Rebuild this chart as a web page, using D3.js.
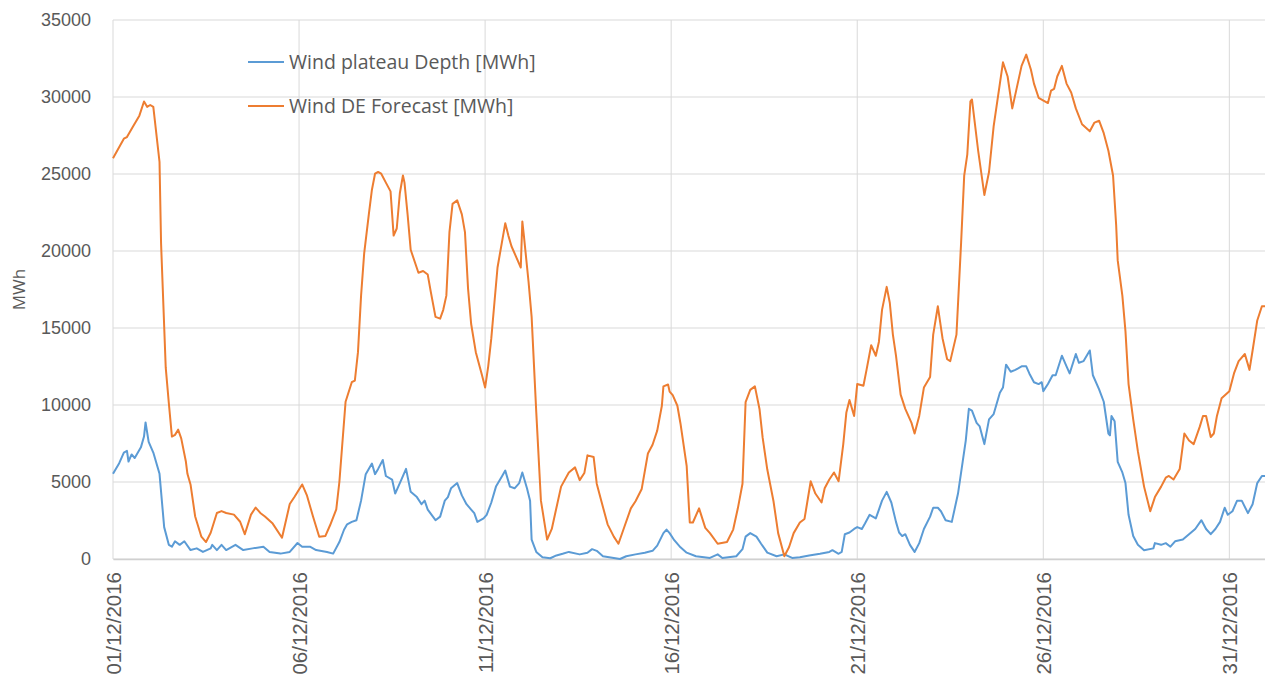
<!DOCTYPE html>
<html>
<head>
<meta charset="utf-8">
<script src="https://cdn.jsdelivr.net/npm/d3@7"></script>
<style>
  body { margin: 0; background: #fff; }
  svg { display: block; font-family: "Open Sans", "Noto Sans", sans-serif; }
</style>
</head>
<body>
<svg id="chart" width="1265" height="681"></svg>
<script>
// hours since 01/12/2016 00:00, values in MWh
const forecastHours = [0,7,9,13,17,20,22,24,26,30,31,34,36,38,40,42,44,47,48,50,53,57,60,63,67,70,73,78,82,85,89,92,95,98,103,109,114,117,122,125,129,133,137,140,144,146,150,154,156,158,160,162,165,167,169,171,173,176,179,181,183,185,187,188,190,192,197,200,203,205,208,211,213,215,217,219,222,225,227,229,231,234,238,240,242,244,246,248,252,253,255,257,260,263,264,265,268,270,273,276,280,283,286,289,294,298,301,304,306,310,312,315,319,323,326,330,334,337,341,345,348,351,354,355,358,359,361,364,366,370,372,374,378,382,385,390,396,400,403,406,408,411,414,417,419,422,426,429,433,436,439,443,446,450,453,457,459,462,465,468,471,473,475,478,480,484,486,489,492,494,496,499,501,503,505,508,511,515,517,520,523,527,529,532,535,538,540,544,547,549,551,553,554,558,562,565,568,572,574,577,580,583,586,589,592,594,597,603,605,607,609,612,615,618,621,625,630,633,636,639,642,645,647,648,651,653,655,658,661,665,669,672,676,679,681,684,688,691,694,697,701,703,705,708,710,712,715,720,723,726,730,733,735,738,741,743];
const forecastMWh = [26020,27290,27400,28100,28790,29710,29360,29480,29360,25790,20500,12440,10130,7950,8060,8400,7830,6330,5530,4840,2760,1450,1100,1700,2990,3110,2990,2880,2420,1610,2880,3340,2990,2760,2300,1380,3570,4030,4840,4150,2760,1450,1500,2190,3220,5000,10210,11480,11590,13430,17100,19850,22380,23980,25020,25130,25020,24440,23870,21000,21460,23750,24900,24440,22380,20080,18590,18700,18470,17330,15720,15610,16180,17100,21230,23060,23290,22380,21230,17560,15260,13430,11930,11130,12510,14340,16640,18930,21230,21800,21000,20310,19620,18930,21920,21000,18020,15720,9520,3790,1260,1950,3330,4700,5620,5950,5120,5580,6730,6620,4890,3750,2250,1450,990,2140,3290,3750,4550,6850,7420,8340,9950,11210,11330,10870,10640,9950,8800,6040,2370,2370,3290,2020,1680,990,1100,1910,3290,4890,10180,10980,11210,9720,7880,5810,3750,1680,180,760,1680,2370,2600,5050,4250,3670,4590,5160,5620,5050,7460,9520,10330,9290,11360,11250,12280,13880,13200,14110,16180,17670,16640,14570,13200,10670,9750,8840,8150,9290,11130,11820,14570,16410,14340,12970,12850,14570,20540,24900,26280,29720,29840,26510,23640,25130,28110,30870,32250,31330,29260,30640,32020,32750,31790,30870,29950,29610,30410,30530,31330,32020,30870,30290,29260,28230,27770,28340,28460,27650,26510,24900,21690,19390,17100,14800,11360,9070,7000,4700,3100,4020,4700,5280,5390,5160,5850,8150,7690,7460,8610,9290,9290,7920,8150,9290,10440,10900,12050,12850,13310,12280,13540,15490,16410,16410];

const plateauHours = [0,4,7,9,10,12,14,18,20,21,23,26,30,33,36,38,40,43,46,50,54,58,63,64,67,70,73,79,84,90,97,101,108,114,119,122,127,131,138,142,146,149,151,154,157,160,163,167,169,171,174,176,180,182,186,189,192,196,199,201,203,208,211,214,216,218,222,225,228,231,233,235,239,241,244,247,251,253,256,259,262,264,267,269,270,273,277,282,286,290,294,301,306,309,312,316,323,327,331,337,343,348,351,355,357,359,362,366,370,376,385,390,393,402,406,408,411,415,418,422,428,433,438,443,449,456,462,464,468,470,472,475,478,480,483,485,488,492,494,496,499,502,505,507,509,511,514,517,520,523,527,529,532,534,537,541,545,548,550,552,554,557,559,562,565,568,572,574,576,579,582,586,589,591,594,597,599,600,603,606,608,612,615,617,621,623,626,630,632,636,639,642,643,644,646,648,651,653,655,658,661,665,671,672,676,679,682,685,690,694,698,702,705,708,711,714,717,719,722,725,728,732,735,738,741,743];
const plateauMWh = [5530,6220,6910,7020,6330,6790,6560,7250,7950,8870,7600,6910,5530,2070,920,800,1150,920,1150,580,690,460,690,920,580,920,580,920,580,690,800,460,350,460,1040,800,800,580,460,350,1100,1900,2250,2410,2520,3790,5510,6200,5510,5850,6430,5390,5160,4250,5160,5850,4360,4020,3560,3790,3210,2520,2750,3790,4020,4590,4930,4130,3560,3210,2980,2410,2640,2870,3670,4700,5390,5740,4700,4590,4930,5620,4590,3790,1260,460,110,50,230,340,460,300,410,640,530,180,70,0,180,300,410,530,870,1680,1910,1680,1220,760,410,180,70,300,70,180,640,1450,1680,1450,990,410,180,300,70,110,230,340,460,570,340,460,1610,1720,1950,2070,1950,2300,2870,2640,3210,3790,4360,3670,2410,1720,1490,1610,920,460,1030,1950,2750,3330,3330,3100,2520,2410,4250,6310,7690,9750,9640,8840,8610,7460,9070,9410,10790,11130,12620,12160,12280,12510,12510,12050,11480,11360,11480,10900,11360,11930,11930,13200,12510,12050,13310,12740,12850,13540,11930,11020,10210,8150,8030,9290,8950,6310,5620,4930,2870,1490,920,570,690,1030,920,1030,800,1150,1260,1610,1950,2520,1950,1610,1950,2410,3330,2870,3100,3790,3790,2980,3560,4930,5390,5390];

const xTickDays = [1, 6, 11, 16, 21, 26, 31];
const yTicks = [0, 5000, 10000, 15000, 20000, 25000, 30000, 35000];
const seriesNames = ["Wind plateau Depth [MWh]", "Wind DE Forecast [MWh]"];
const seriesColors = ["#5B9BD5", "#ED7D31"];

const svg = d3.select("#chart");
const margin = { left: 113, right: 0, top: 20, bottom: 122 };
const width = 1265, height = 681;

const start = Date.UTC(2016, 11, 1);
const toDate = h => new Date(start + h * 3600 * 1000);

const x = d3.scaleUtc()
  .domain([toDate(0), toDate(743)])
  .range([margin.left, width - margin.right]);
const y = d3.scaleLinear()
  .domain([0, 35000])
  .range([height - margin.bottom, margin.top]);

const gridColor = "#d9d9d9";
const textColor = "#595959";

// horizontal grid
svg.append("g")
  .selectAll("line")
  .data(yTicks)
  .join("line")
  .attr("x1", margin.left).attr("x2", width)
  .attr("y1", d => y(d)).attr("y2", d => y(d))
  .attr("stroke", gridColor).attr("stroke-width", 1);

// vertical grid
const tickDates = xTickDays.map(d => new Date(Date.UTC(2016, 11, d)));
svg.append("g")
  .selectAll("line")
  .data(tickDates)
  .join("line")
  .attr("x1", d => x(d)).attr("x2", d => x(d))
  .attr("y1", margin.top).attr("y2", y(0))
  .attr("stroke", gridColor).attr("stroke-width", 1);

// y axis labels
const yAxis = svg.append("g")
  .attr("transform", `translate(${margin.left - 22},0)`)
  .call(d3.axisLeft(y).tickValues(yTicks).tickSize(0).tickPadding(0).tickFormat(d3.format("d")));
yAxis.select(".domain").remove();
yAxis.selectAll("text")
  .attr("fill", textColor)
  .style("font-size", "18px");

// x axis
const fmt = d3.utcFormat("%d/%m/%Y");
const xAxis = svg.append("g")
  .attr("transform", `translate(0,${y(0)})`)
  .call(d3.axisBottom(x).tickValues(tickDates).tickSize(0).tickPadding(0).tickFormat(fmt));
xAxis.select(".domain").attr("stroke", "#d0d0d0").attr("stroke-width", 1.5);
xAxis.selectAll("text")
  .attr("fill", textColor)
  .style("font-size", "20.5px")
  .attr("text-anchor", "end")
  .attr("transform", "rotate(-90)")
  .attr("x", -13)
  .attr("y", 0)
  .attr("dy", "0.35em");

// y title
svg.append("text")
  .attr("transform", `translate(19,${(margin.top + y(0)) / 2}) rotate(-90)`)
  .attr("text-anchor", "middle")
  .attr("dy", "0.35em")
  .attr("fill", textColor)
  .style("font-size", "17px")
  .text("MWh");

// lines
const line = d3.line()
  .x(d => x(toDate(d[0])))
  .y(d => y(d[1]));

const plateau = plateauHours.map((h, i) => [h, plateauMWh[i]]);
const forecast = forecastHours.map((h, i) => [h, forecastMWh[i]]);

[plateau, forecast].forEach((data, i) => {
  svg.append("path")
    .datum(data)
    .attr("fill", "none")
    .attr("stroke", seriesColors[i])
    .attr("stroke-width", 2)
    .attr("stroke-linejoin", "round")
    .attr("d", line);
});

// legend
const legend = svg.append("g");
seriesNames.forEach((name, i) => {
  const ly = 62 + i * 44;
  legend.append("line")
    .attr("x1", 248).attr("x2", 284)
    .attr("y1", ly).attr("y2", ly)
    .attr("stroke", seriesColors[i]).attr("stroke-width", 2);
  legend.append("text")
    .attr("x", 289).attr("y", ly)
    .attr("dy", "0.35em")
    .attr("fill", textColor)
    .style("font-size", "19.5px")
    .text(name);
});
</script>
</body>
</html>
